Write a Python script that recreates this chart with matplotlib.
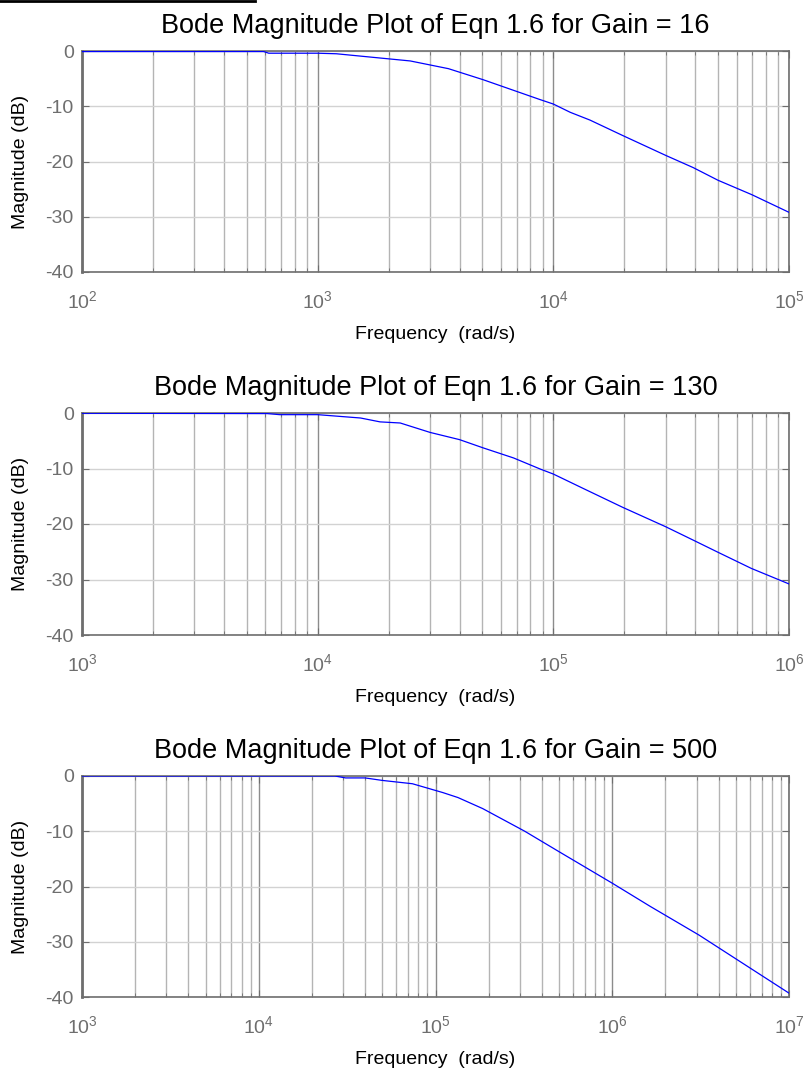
import matplotlib
matplotlib.use("Agg")
import matplotlib.pyplot as plt
from matplotlib.lines import Line2D
from matplotlib.ticker import LogLocator, NullFormatter

plt.rcParams['font.family'] = ['Liberation Sans', 'DejaVu Sans']
plt.rcParams['axes.unicode_minus'] = False
plt.rcParams['mathtext.fontset'] = 'custom'
plt.rcParams['mathtext.rm'] = 'Liberation Sans'

# gain = 16
freq_16 = [1e2, 590, 620, 1000, 1200, 2470, 3590, 5040, 8790, 1e4, 11800, 14300,
           19700, 30000, 39200, 50000, 69500, 1e5]
mag_16 = [-0.1, -0.1, -0.4, -0.4, -0.5, -1.8, -3.2, -5.2, -8.8, -9.6, -11.1, -12.5,
          -15.3, -18.9, -21.1, -23.4, -26.0, -29.2]

# gain = 130
freq_130 = [1e3, 6100, 6900, 1e4, 15200, 18400, 22400, 30000, 40000, 50500, 67800,
            88000, 1e5, 134000, 197000, 300000, 392000, 500000, 692000, 1e6]
mag_130 = [-0.05, -0.1, -0.3, -0.3, -0.9, -1.6, -1.8, -3.5, -4.8, -6.3, -8.1,
           -10.1, -11.0, -13.6, -17.0, -20.5, -22.9, -25.1, -28.0, -30.8]

# gain = 500
freq_500 = [1e3, 27000, 31000, 40000, 50000, 74000, 92500, 110000, 134000, 185000,
            320000, 500000, 1e6, 1.64e6, 3.1e6, 1e7]
mag_500 = [0.0, 0.0, -0.35, -0.35, -0.8, -1.4, -2.3, -3.0, -3.9, -5.9,
           -10.0, -13.7, -19.4, -23.6, -28.8, -39.3]

gains = ['16', '130', '500']
xlims = [(1e2, 1e5), (1e3, 1e6), (1e3, 1e7)]
series = [(freq_16, mag_16), (freq_130, mag_130), (freq_500, mag_500)]

fig = plt.figure(figsize=(8.04, 10.78), dpi=100)
fig.add_artist(Line2D([0, 0.317], [0.999, 0.999], color='black', lw=2,
                      transform=fig.transFigure))

tops = [51, 413, 776]
bots = [272, 635, 997]
left, right = 82 / 804, 789 / 804

for k in range(3):
    b = 1 - bots[k] / 1078
    h = (bots[k] - tops[k]) / 1078
    ax = fig.add_axes([left, b, right - left, h])
    f, m = series[k]
    ax.semilogx(f, m, color='#0000ff', lw=0.9, zorder=3)
    ax.set_xlim(*xlims[k])
    ax.set_ylim(-40, 0)
    ax.set_yticks([-40, -30, -20, -10, 0])
    ax.xaxis.set_major_locator(LogLocator(base=10, numticks=10))
    ax.xaxis.set_minor_locator(LogLocator(base=10, subs=range(2, 10), numticks=20))
    ax.xaxis.set_minor_formatter(NullFormatter())
    ax.grid(True, which='major', axis='x', color='#8c8c8c', lw=1.0)
    ax.grid(True, which='minor', axis='x', color='#b4b4b4', lw=1.0)
    ax.grid(True, which='major', axis='y', color='#d2d2d2', lw=1.0)
    for s in ax.spines.values():
        s.set_color('#6e6e6e')
        s.set_linewidth(1.2)
    ax.spines['left'].set_linewidth(2)
    ax.tick_params(which='both', direction='in', top=True, right=True,
                   colors='#6e6e6e', labelcolor='#6e6e6e', labelsize=14)
    ax.tick_params(which='major', length=5)
    ax.tick_params(which='minor', length=3)
    ax.tick_params(axis='x', pad=13)
    ax.tick_params(axis='y', pad=6)
    ax.set_title('Bode Magnitude Plot of Eqn 1.6 for Gain = ' + gains[k],
                 fontsize=19.5, pad=13)
    ax.set_xlabel('Frequency  (rad/s)', fontsize=14, labelpad=10)
    ax.set_ylabel('Magnitude (dB)', fontsize=14, labelpad=12)

fig.savefig('out.png', dpi=100)
